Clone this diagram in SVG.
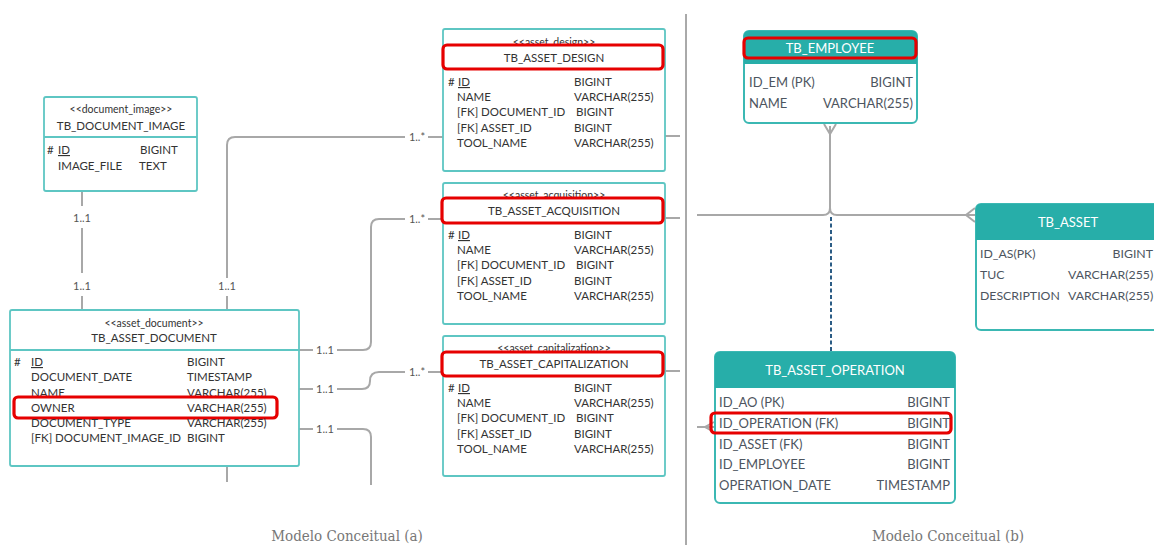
<svg xmlns="http://www.w3.org/2000/svg" width="1154" height="545" viewBox="0 0 1154 545">
  <style>
    .uml { fill: #fff; stroke: #5ec6c3; stroke-width: 1.8; }
    .sep { stroke: #5ec6c3; stroke-width: 1.8; }
    .st { font-family: Lato, "Liberation Sans", sans-serif; font-size: 10.5px; fill: #333; text-anchor: middle; }
    .nm { font-family: Lato, "Liberation Sans", sans-serif; font-size: 11.5px; fill: #333; text-anchor: middle; }
    .row { font-family: Lato, "Liberation Sans", sans-serif; font-size: 11.5px; fill: #333; }
    .ul { text-decoration: underline; }
    .mark { fill: none; stroke: #e60000; stroke-width: 3.2; }
    .markw { fill: #fff; stroke: #e60000; stroke-width: 3.2; }
    .conn { fill: none; stroke: #a8a8a8; stroke-width: 2; }
    .lbl { font-family: Lato, "Liberation Sans", sans-serif; font-size: 11px; fill: #555; text-anchor: middle; }
    .ent { fill: #fff; stroke: #3bb8b3; stroke-width: 2; }
    .hdr { fill: #27aea9; }
    .et { font-family: Lato, "Liberation Sans", sans-serif; font-size: 13px; fill: #fff; text-anchor: middle; }
    .er { font-family: Lato, "Liberation Sans", sans-serif; font-size: 13px; fill: #4d5560; }
    .sm { font-size: 12.3px; }
    .end { text-anchor: end; }
    .cap { font-family: "DejaVu Serif Condensed", "Liberation Serif", serif; font-size: 15px; fill: #777; text-anchor: middle; }
  </style>

  <rect width="1154" height="545" fill="#fff"/>

  <!-- connectors -->
  <g id="connectors">
    <!-- document image to asset document -->
    <path class="conn" d="M82 191 V206 M82 228 V273 M82 296 V310"/>
    <text class="lbl" x="82" y="222">1..1</text>
    <text class="lbl" x="82" y="290">1..1</text>
    <!-- asset document to asset design -->
    <path class="conn" d="M227 296 V310 M227 278 V145 Q227 137 235 137 H405 M428 137 H443"/>
    <text class="lbl" x="227" y="290">1..1</text>
    <text class="lbl" x="417" y="141">1..*</text>
    <!-- asset document to asset acquisition -->
    <path class="conn" d="M299 350 H313 M337 350 H363 Q371 350 371 342 V227 Q371 219 379 219 H405 M428 219 H443"/>
    <text class="lbl" x="325" y="354">1..1</text>
    <text class="lbl" x="417" y="223">1..*</text>
    <!-- asset document to asset capitalization -->
    <path class="conn" d="M299 389 H313 M337 389 H362 Q370 389 370 381 Q370 372 379 372 H405 M428 372 H443"/>
    <text class="lbl" x="325" y="393">1..1</text>
    <text class="lbl" x="417" y="376">1..*</text>
    <!-- asset document, lower branches -->
    <path class="conn" d="M299 429 H313 M337 429 H363 Q371 429 371 437 V485"/>
    <text class="lbl" x="325" y="433">1..1</text>
    <path class="conn" d="M227 466 V482"/>
    <!-- stubs on the right of the middle tables -->
    <path class="conn" d="M665 136 H680 M665 218 H680 M665 371 H680"/>

    <!-- divider -->
    <line x1="686" y1="14" x2="686" y2="545" stroke="#555" stroke-width="1"/>

    <!-- employee / asset / operation links -->
    <path class="conn" d="M697 215 H823 Q830 215 830 208 V126 M837 215 Q830 215 830 208 M837 215 H975"/>
    <path class="conn" d="M824 124 L830 134 L836 124"/>
    <path class="conn" d="M975 208 L966 215 L975 222"/>
    <line x1="831" y1="217" x2="831" y2="352" stroke="#2b5c85" stroke-width="2" stroke-dasharray="4 2.5"/>
    <path class="conn" d="M697 427 H714 M714 422 L705 427 L714 432"/>
  </g>

  <!-- TB_DOCUMENT_IMAGE -->
  <g id="tb_document_image">
    <rect class="uml" x="44" y="97" width="153" height="94" rx="2"/>
    <line class="sep" x1="44" y1="137" x2="197" y2="137"/>
    <text class="st" x="121" y="113">&lt;&lt;document_image&gt;&gt;</text>
    <text class="nm" x="121" y="130">TB_DOCUMENT_IMAGE</text>
    <text class="row" x="47" y="154">#</text>
    <text class="row ul" x="58" y="154">ID</text>
    <text class="row" x="140" y="154">BIGINT</text>
    <text class="row" x="58" y="170">IMAGE_FILE</text>
    <text class="row" x="139" y="170">TEXT</text>
  </g>

  <!-- TB_ASSET_DOCUMENT -->
  <g id="tb_asset_document">
    <rect class="uml" x="10" y="310" width="289" height="156" rx="2"/>
    <line class="sep" x1="10" y1="350" x2="299" y2="350"/>
    <text class="st" x="154" y="327">&lt;&lt;asset_document&gt;&gt;</text>
    <text class="nm" x="154" y="342">TB_ASSET_DOCUMENT</text>
    <text class="row" x="14" y="366">#</text>
    <text class="row ul" x="31" y="366">ID</text>
    <text class="row" x="187" y="366">BIGINT</text>
    <text class="row" x="31" y="381">DOCUMENT_DATE</text>
    <text class="row" x="187" y="381">TIMESTAMP</text>
    <text class="row" x="31" y="397">NAME</text>
    <text class="row" x="187" y="397">VARCHAR(255)</text>
    <rect class="markw" x="14" y="397" width="263" height="21" rx="4"/>
    <text class="row" x="31" y="412">OWNER</text>
    <text class="row" x="187" y="412">VARCHAR(255)</text>
    <text class="row" x="31" y="427">DOCUMENT_TYPE</text>
    <text class="row" x="187" y="427">VARCHAR(255)</text>
    <text class="row" x="31" y="442">[FK] DOCUMENT_IMAGE_ID</text>
    <text class="row" x="187" y="442">BIGINT</text>
  </g>

  <!-- TB_ASSET_DESIGN -->
  <g id="tb_asset_design">
    <rect class="uml" x="443" y="29" width="222" height="142" rx="2"/>
    <text class="st" x="554" y="46">&lt;&lt;asset_design&gt;&gt;</text>
    <rect class="markw" x="443" y="45" width="220" height="24" rx="4"/>
    <text class="nm" x="554" y="62">TB_ASSET_DESIGN</text>
    <text class="row" x="448" y="86">#</text>
    <text class="row ul" x="458" y="86">ID</text>
    <text class="row" x="574" y="86">BIGINT</text>
    <text class="row" x="457" y="101">NAME</text>
    <text class="row" x="574" y="101">VARCHAR(255)</text>
    <text class="row" x="457" y="116">[FK] DOCUMENT_ID</text>
    <text class="row" x="576" y="116">BIGINT</text>
    <text class="row" x="457" y="132">[FK] ASSET_ID</text>
    <text class="row" x="574" y="132">BIGINT</text>
    <text class="row" x="457" y="147">TOOL_NAME</text>
    <text class="row" x="574" y="147">VARCHAR(255)</text>
  </g>

  <!-- TB_ASSET_ACQUISITION -->
  <g id="tb_asset_acquisition">
    <rect class="uml" x="443" y="183" width="222" height="141" rx="2"/>
    <text class="st" x="554" y="199">&lt;&lt;asset_acquisition&gt;&gt;</text>
    <rect class="markw" x="442" y="198" width="221" height="25" rx="4"/>
    <text class="nm" x="554" y="215">TB_ASSET_ACQUISITION</text>
    <text class="row" x="448" y="239">#</text>
    <text class="row ul" x="458" y="239">ID</text>
    <text class="row" x="574" y="239">BIGINT</text>
    <text class="row" x="457" y="254">NAME</text>
    <text class="row" x="574" y="254">VARCHAR(255)</text>
    <text class="row" x="457" y="269">[FK] DOCUMENT_ID</text>
    <text class="row" x="576" y="269">BIGINT</text>
    <text class="row" x="457" y="285">[FK] ASSET_ID</text>
    <text class="row" x="574" y="285">BIGINT</text>
    <text class="row" x="457" y="300">TOOL_NAME</text>
    <text class="row" x="574" y="300">VARCHAR(255)</text>
  </g>

  <!-- TB_ASSET_CAPITALIZATION -->
  <g id="tb_asset_capitalization">
    <rect class="uml" x="443" y="336" width="222" height="140" rx="2"/>
    <text class="st" x="554" y="352">&lt;&lt;asset_capitalization&gt;&gt;</text>
    <rect class="markw" x="442" y="352" width="221" height="24" rx="4"/>
    <text class="nm" x="554" y="368">TB_ASSET_CAPITALIZATION</text>
    <text class="row" x="448" y="392">#</text>
    <text class="row ul" x="458" y="392">ID</text>
    <text class="row" x="574" y="392">BIGINT</text>
    <text class="row" x="457" y="407">NAME</text>
    <text class="row" x="574" y="407">VARCHAR(255)</text>
    <text class="row" x="457" y="422">[FK] DOCUMENT_ID</text>
    <text class="row" x="576" y="422">BIGINT</text>
    <text class="row" x="457" y="438">[FK] ASSET_ID</text>
    <text class="row" x="574" y="438">BIGINT</text>
    <text class="row" x="457" y="453">TOOL_NAME</text>
    <text class="row" x="574" y="453">VARCHAR(255)</text>
  </g>

  <!-- TB_EMPLOYEE -->
  <g id="tb_employee">
    <rect class="ent" x="744" y="31" width="173" height="92" rx="5"/>
    <path class="hdr" d="M744 64 V36 Q744 31 749 31 H912 Q917 31 917 36 V64 Z"/>
    <rect class="mark" x="744" y="38" width="172" height="20" rx="4"/>
    <text class="et" x="830" y="53">TB_EMPLOYEE</text>
    <text class="er" x="749" y="87">ID_EM (PK)</text>
    <text class="er end" x="913" y="87">BIGINT</text>
    <text class="er" x="749" y="108">NAME</text>
    <text class="er end" x="913" y="108">VARCHAR(255)</text>
  </g>

  <!-- TB_ASSET -->
  <g id="tb_asset">
    <rect class="ent" x="976" y="204" width="200" height="126" rx="5"/>
    <path class="hdr" d="M976 240 V209 Q976 204 981 204 H1176 V240 Z"/>
    <text class="et" x="1068" y="227">TB_ASSET</text>
    <text class="er sm" x="980" y="258">ID_AS(PK)</text>
    <text class="er sm end" x="1153" y="258">BIGINT</text>
    <text class="er sm" x="980" y="279">TUC</text>
    <text class="er sm" x="1068" y="279">VARCHAR(255)</text>
    <text class="er sm" x="980" y="300">DESCRIPTION</text>
    <text class="er sm" x="1068" y="300">VARCHAR(255)</text>
  </g>

  <!-- TB_ASSET_OPERATION -->
  <g id="tb_asset_operation">
    <rect class="ent" x="715" y="352" width="240" height="151" rx="5"/>
    <path class="hdr" d="M715 388 V357 Q715 352 720 352 H950 Q955 352 955 357 V388 Z"/>
    <text class="et" x="835" y="375">TB_ASSET_OPERATION</text>
    <text class="er" x="719" y="407">ID_AO (PK)</text>
    <text class="er end" x="950" y="407">BIGINT</text>
    <rect class="mark" x="711" y="413" width="240" height="20" rx="4"/>
    <text class="er" x="719" y="428">ID_OPERATION (FK)</text>
    <text class="er end" x="950" y="428">BIGINT</text>
    <text class="er" x="719" y="449">ID_ASSET (FK)</text>
    <text class="er end" x="950" y="449">BIGINT</text>
    <text class="er" x="719" y="469">ID_EMPLOYEE</text>
    <text class="er end" x="950" y="469">BIGINT</text>
    <text class="er" x="719" y="490">OPERATION_DATE</text>
    <text class="er end" x="950" y="490">TIMESTAMP</text>
  </g>

  <!-- captions -->
  <text class="cap" x="347" y="541">Modelo Conceitual (a)</text>
  <text class="cap" x="948" y="541">Modelo Conceitual (b)</text>
</svg>
